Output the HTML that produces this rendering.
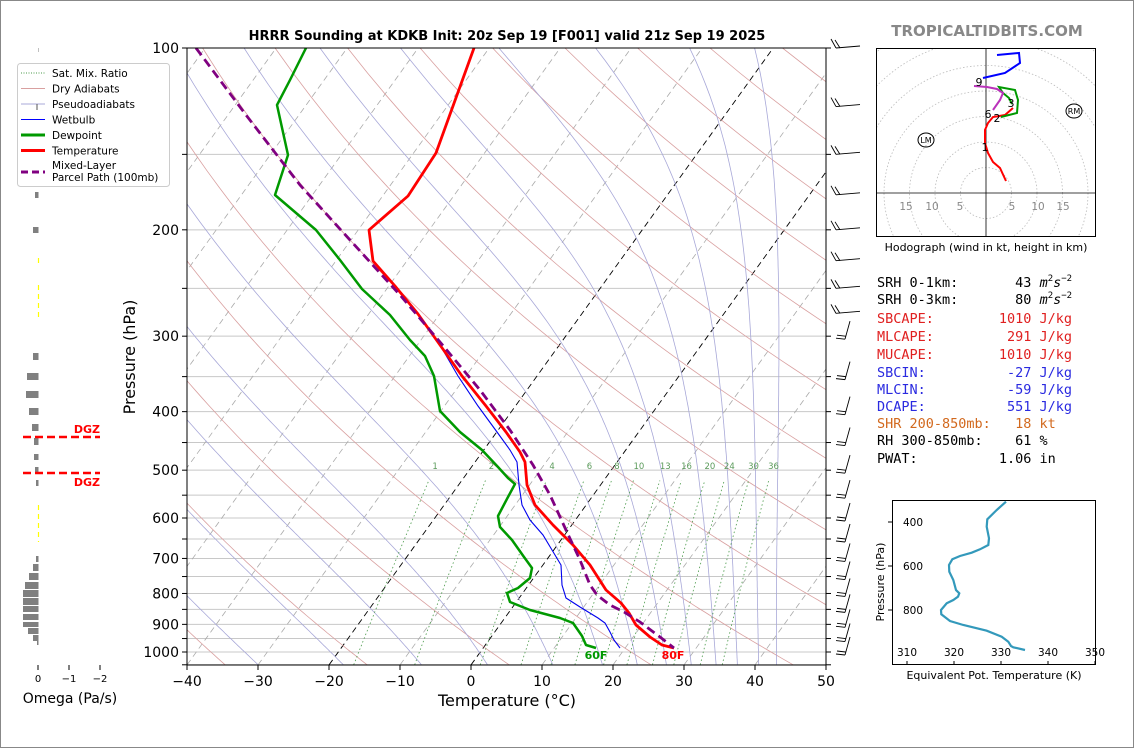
<!DOCTYPE html>
<html><head><meta charset="utf-8"><style>
body{margin:0;background:#fff;}
svg{display:block;font-family:"DejaVu Sans","Liberation Sans",sans-serif;}
.mono{font-family:"DejaVu Sans Mono","Liberation Mono",monospace;font-size:13.5px;white-space:pre;}
</style></head><body>
<svg id="s" width="1134" height="748" viewBox="0 0 1134 748" xmlns="http://www.w3.org/2000/svg">
<rect x="0.5" y="0.5" width="1133" height="747" fill="#fff" stroke="#888"/>
<defs><clipPath id="cp"><rect x="187" y="48" width="639" height="617"/></clipPath>
<clipPath id="hc"><rect x="876" y="48" width="220" height="189"/></clipPath></defs>
<g id="bg" clip-path="url(#cp)"></g>
<g id="fg"></g>
<text x="507" y="40" text-anchor="middle" font-size="13" font-weight="bold">HRRR Sounding at KDKB Init: 20z Sep 19 [F001] valid 21z Sep 19 2025</text>
<text x="987" y="36" text-anchor="middle" font-size="15" font-weight="bold" fill="#888">TROPICALTIDBITS.COM</text>
<text x="507" y="706" text-anchor="middle" font-size="16">Temperature (°C)</text>
<text transform="translate(135,357) rotate(-90)" text-anchor="middle" font-size="16">Pressure (hPa)</text>
<text x="70" y="703" text-anchor="middle" font-size="14">Omega (Pa/s)</text>
<text x="986" y="251" text-anchor="middle" font-size="11">Hodograph (wind in kt, height in km)</text>
<text x="994" y="679" text-anchor="middle" font-size="11">Equivalent Pot. Temperature (K)</text>
<text transform="translate(884,582) rotate(-90)" text-anchor="middle" font-size="11">Pressure (hPa)</text>
<g class="mono">
<text x="877" y="287" xml:space="preserve">SRH 0-1km:       43 <tspan font-style="italic">m</tspan><tspan font-size="9" dy="-6">2</tspan><tspan font-style="italic" dy="6">s</tspan><tspan font-size="9" dy="-6">−2</tspan></text>
<text x="877" y="304" xml:space="preserve">SRH 0-3km:       80 <tspan font-style="italic">m</tspan><tspan font-size="9" dy="-6">2</tspan><tspan font-style="italic" dy="6">s</tspan><tspan font-size="9" dy="-6">−2</tspan></text>
<text x="877" y="323" fill="#e02020" xml:space="preserve">SBCAPE:        1010 J/kg</text>
<text x="877" y="341" fill="#e02020" xml:space="preserve">MLCAPE:         291 J/kg</text>
<text x="877" y="359" fill="#e02020" xml:space="preserve">MUCAPE:        1010 J/kg</text>
<text x="877" y="377" fill="#2a2ae0" xml:space="preserve">SBCIN:          -27 J/kg</text>
<text x="877" y="394" fill="#2a2ae0" xml:space="preserve">MLCIN:          -59 J/kg</text>
<text x="877" y="411" fill="#2a2ae0" xml:space="preserve">DCAPE:          551 J/kg</text>
<text x="877" y="428" fill="#d2691e" xml:space="preserve">SHR 200-850mb:   18 kt</text>
<text x="877" y="445" xml:space="preserve">RH 300-850mb:    61 %</text>
<text x="877" y="463" xml:space="preserve">PWAT:          1.06 in</text>
</g>
</svg>
<script>
const NS="http://www.w3.org/2000/svg";
const bg=document.getElementById('bg'),fg=document.getElementById('fg');
function el(p,tag,a,txt){const e=document.createElementNS(NS,tag);for(const k in a)e.setAttribute(k,a[k]);if(txt!==undefined)e.textContent=txt;p.appendChild(e);return e;}
const Y=p=>48+604*Math.log10(p/100);
const X=(T,p)=>187+(T+40)*7.1+(665-Y(p))*0.72;
function pl(g,pts,st){el(g,'polyline',Object.assign({points:pts.map(q=>q[0].toFixed(1)+','+q[1].toFixed(1)).join(' '),fill:'none'},st));}
for(let p=100;p<=1050;p+=50) el(bg,'line',{x1:187,x2:826,y1:Y(p),y2:Y(p),stroke:'#c8c8c8','stroke-width':1});
for(let T=-120;T<=50;T+=10){const blk=(T==0||T==-20);pl(bg,[[X(T,1050),Y(1050)],[X(T,100),Y(100)]],{stroke:blk?'#000':'#aaa','stroke-width':blk?0.9:0.8,'stroke-dasharray':'6,4'});}
for(let th=218.5;th<=580;th+=20){let pts=[];for(let p=1050;p>=100;p-=10)pts.push([X(th*Math.pow(p/1050,0.286)-273.15,p),Y(p)]);pl(bg,pts,{stroke:'#d9a0a0','stroke-width':0.8});}
function es(T){return 6.112*Math.exp(17.67*T/(T+243.5));}
function gm(T,p){const Tk=T+273.15,e=es(T),r=0.622*e/(p-e),Lv=2.5e6,Rd=287,cp=1005,eps=0.622;
return (Rd*Tk+Lv*r)/(cp+Lv*Lv*r*eps/(Rd*Tk*Tk))/p;}
[-30,-18,-7,2.3,11.5,18.5,23.4,27.5,31,34.5,37.5,40.5,43].forEach(T0=>{let T=T0,pts=[[X(T,1050),Y(1050)]];
 for(let p=1050;p>100;p-=5){T-=gm(T,p)*5;pts.push([X(T,p-5),Y(p-5)]);}
 pl(bg,pts,{stroke:'#a8a8d8','stroke-width':0.8});});
[1,2,4,6,8,10,13,16,20,24,30,36].forEach(w=>{let pts=[];for(let p=1050;p>=520;p-=10){const e=w*p/(622+w),l=Math.log(e/6.112);pts.push([X(243.5*l/(17.67-l),p),Y(p)]);}
 pl(bg,pts,{stroke:'#4a9a4a','stroke-width':0.8,'stroke-dasharray':'1.5,2.5'});
 const e=w*500/(622+w),l=Math.log(e/6.112);el(bg,'text',{x:X(243.5*l/(17.67-l),500)+2,y:469,'font-size':8.5,fill:'#5a9a5a','text-anchor':'middle'},String(w));});
const P=s=>s.trim().split(/\s+/).map(v=>v.split(',').map(Number));
pl(bg,P("306,48 290,80 277,105 288,155 275,195 316,230 340,260 362,289 390,315 410,340 425,356 434,376 440,411 460,432 482,450 498,467 508,478 515,484 508,497 498,516 500,527 512,540 524,557 532,568 530,578 518,588 507,593 510,602 530,610 560,618 573,623 582,636 586,645 596,648"),{stroke:'#009900','stroke-width':2.5,'stroke-linejoin':'round'});
pl(bg,P("474,48 436,153 408,196 369,230 373,261 395,286 418,314 440,345 458,376 478,406 497,432 510,450 517,462 519,485 522,505 530,520 543,535 552,550 561,565 562,585 566,598 580,607 598,618 605,623 610,632 614,640 620,648"),{stroke:'#0000ee','stroke-width':1.1});
pl(bg,P("474,48 436,153 408,196 369,230 373,261 395,286 418,314 440,345 462,376 486,406 506,432 520,452 525,462 527,485 535,505 553,525 573,545 590,565 606,590 621,603 629,613 636,625 650,637 662,645 674,648"),{stroke:'#ff0000','stroke-width':2.8,'stroke-linejoin':'round'});
pl(bg,P("196,48 246,115 300,185 350,240 400,295 440,342 480,390 510,430 533,465 550,495 566,530 580,560 590,585 597,595 610,605 624,612 640,622 660,637 674,648"),{stroke:'#800080','stroke-width':2.8,'stroke-dasharray':'9,5'});
el(fg,'text',{x:596,y:659,'font-size':11,'font-weight':'bold',fill:'#009900','text-anchor':'middle'},'60F');
el(fg,'text',{x:673,y:659,'font-size':11,'font-weight':'bold',fill:'#ff0000','text-anchor':'middle'},'80F');
el(fg,'rect',{x:187,y:48,width:639,height:617,fill:'none',stroke:'#000','stroke-width':1});
for(let p=100;p<=1050;p+=50){el(fg,'line',{x1:182,x2:187,y1:Y(p),y2:Y(p),stroke:'#000'});el(fg,'line',{x1:826,x2:831,y1:Y(p),y2:Y(p),stroke:'#000'});}
for(let p=100;p<=1000;p+=100)el(fg,'text',{x:179,y:Y(p)+5,'font-size':14,'text-anchor':'end'},String(p));
for(let T=-40;T<=50;T+=10){const x=187+(T+40)*7.1;el(fg,'line',{x1:x,x2:x,y1:665,y2:670,stroke:'#000'});el(fg,'text',{x:x,y:686,'font-size':14,'text-anchor':'middle'},(T<0?'−':'')+Math.abs(T));}
for(let p=100;p<=1000;p+=(p<300?25:50)){const y=Y(p);const up=p<300;
 if(up){el(fg,'line',{x1:836,y1:y,x2:860,y2:y-2,stroke:'#000','stroke-width':0.9});el(fg,'line',{x1:836,y1:y,x2:831,y2:y-9,stroke:'#000','stroke-width':0.9});el(fg,'line',{x1:840,y1:y,x2:835,y2:y-8,stroke:'#000','stroke-width':0.9});}
 else{el(fg,'line',{x1:845,y1:y+3,x2:850,y2:y-15,stroke:'#000','stroke-width':0.9});el(fg,'line',{x1:845,y1:y+3,x2:836,y2:y+2,stroke:'#000','stroke-width':0.9});el(fg,'line',{x1:845.5,y1:y,x2:837,y2:y-1,stroke:'#000','stroke-width':0.9});}}
const bars=[[48,52,38],[192,198,35],[227,233,33],[353,360,33],[373,380,27],[391,398,26],[408,415,29],[424,431,32],[438,445,34],[454,460,34],[467,473,35],[480,486,36],[556,562,36],[564,571,33],[573,580,29],[582,589,25],[590,597,23],[598,605,23],[606,612,23],[614,620,23],[622,627,23],[628,634,28],[635,641,33],[641,645,37]];
bars.forEach(b=>el(fg,'rect',{x:b[2],y:b[0],width:38-b[2]+0.5,height:b[1]-b[0],fill:'#808080'}));
[[258,265],[285,318],[505,542]].forEach(s=>el(fg,'line',{x1:38.5,x2:38.5,y1:s[0],y2:s[1],stroke:'#ffff00','stroke-width':1.2,'stroke-dasharray':'5,4'}));
[437,473].forEach(y=>el(fg,'line',{x1:23,x2:100,y1:y,y2:y,stroke:'#ff0000','stroke-width':2.5,'stroke-dasharray':'8,4'}));
el(fg,'text',{x:100,y:433,'font-size':11,'font-weight':'bold',fill:'#ff0000','text-anchor':'end'},'DGZ');
el(fg,'text',{x:100,y:486,'font-size':11,'font-weight':'bold',fill:'#ff0000','text-anchor':'end'},'DGZ');
[[38,'0'],[69,'−1'],[100,'−2']].forEach(t=>{el(fg,'line',{x1:t[0],x2:t[0],y1:665,y2:670,stroke:'#000'});el(fg,'text',{x:t[0],y:682,'font-size':10,'text-anchor':'middle'},t[1]);});
el(fg,'rect',{x:17.5,y:63.5,width:152,height:123,fill:'#fff',stroke:'#ccc',rx:3});
const lg=[['Sat. Mix. Ratio',{stroke:'#4a9a4a','stroke-dasharray':'1,1.5'}],['Dry Adiabats',{stroke:'#d9a0a0'}],['Pseudoadiabats',{stroke:'#a8a8d8'}],['Wetbulb',{stroke:'#0000ff'}],['Dewpoint',{stroke:'#009900','stroke-width':3}],['Temperature',{stroke:'#ff0000','stroke-width':3}]];
lg.forEach((l,i)=>{const y=73+i*15.5;el(fg,'line',Object.assign({x1:21,x2:45,y1:y,y2:y,'stroke-width':1},l[1]));el(fg,'text',{x:52,y:y+4,'font-size':10.5},l[0]);});
el(fg,'line',{x1:37,x2:37,y1:104,y2:110,stroke:'#555'});
el(fg,'line',{x1:21,x2:45,y1:172,y2:172,stroke:'#800080','stroke-width':3,'stroke-dasharray':'7,4'});
el(fg,'text',{x:52,y:169,'font-size':10.5},'Mixed-Layer');el(fg,'text',{x:52,y:181,'font-size':10.5},'Parcel Path (100mb)');
const hg=el(fg,'g',{'clip-path':'url(#hc)'});
for(let r=5;r<=40;r+=5)el(hg,'circle',{cx:986,cy:193,r:r*5.1,fill:'none',stroke:'#bbb','stroke-width':0.8,'stroke-dasharray':'1.5,2'});
el(hg,'line',{x1:876,x2:1096,y1:193,y2:193,stroke:'#000','stroke-width':0.8});
el(hg,'line',{x1:986,x2:986,y1:48,y2:237,stroke:'#000','stroke-width':0.8});
[[906,'15'],[932,'10'],[960,'5'],[1012,'5'],[1038,'10'],[1063,'15']].forEach(t=>el(fg,'text',{x:t[0],y:210,'font-size':10.5,fill:'#888','text-anchor':'middle'},t[1]));
pl(hg,P("1006,181 1000,168 993,162 988,153 985,143 985,130 988,123 993,117 1005,115 1013,108"),{stroke:'#ff0000','stroke-width':2});
pl(hg,P("1001,117 1017,113 1018,100 1015,90 999,87 1003,93 1009,98 1012,104"),{stroke:'#009900','stroke-width':2});
pl(hg,P("993,110 1000,100 1003,93 997,89 987,87 974,86"),{stroke:'#bb33bb','stroke-width':2});
pl(hg,P("983,78 1005,73 1020,63 1019,53 997,55"),{stroke:'#0000ff','stroke-width':2});
[[979,86,'9'],[988,118,'6'],[997,122,'2'],[1011,107,'3'],[985,151,'1']].forEach(t=>el(fg,'text',{x:t[0],y:t[1],'font-size':11,'text-anchor':'middle'},t[2]));
el(fg,'ellipse',{cx:1074,cy:111,rx:8,ry:7,fill:'none',stroke:'#000'});el(fg,'text',{x:1074,y:114,'font-size':8,'text-anchor':'middle'},'RM');
el(fg,'ellipse',{cx:926,cy:140,rx:8,ry:7,fill:'none',stroke:'#000'});el(fg,'text',{x:926,y:143,'font-size':8,'text-anchor':'middle'},'LM');
el(fg,'rect',{x:876.5,y:48.5,width:219,height:188,fill:'none',stroke:'#000'});
el(fg,'rect',{x:892.5,y:500.5,width:203,height:164,fill:'none',stroke:'#000'});
const te=P("558,215 530,240 502,268 500,290 507,325 505,345 480,358 455,368 420,378 397,388 387,405 388,425 400,450 408,480 418,490 414,500 400,510 380,520 363,540 364,553 390,573 430,585 500,602 545,620 565,635 573,648 580,652 615,660").map(q=>[q[0]/3+820,q[1]/3+430]);
pl(fg,te,{stroke:'#3399bb','stroke-width':2.2});
[[522,'400'],[566,'600'],[610,'800']].forEach(t=>{el(fg,'line',{x1:888,x2:892,y1:t[0],y2:t[0],stroke:'#000'});el(fg,'text',{x:923,y:t[0]+4,'font-size':10.5,'text-anchor':'end'},t[1]);});
[[907,'310'],[954,'320'],[1001,'330'],[1048,'340'],[1095,'350']].forEach(t=>{el(fg,'line',{x1:t[0],x2:t[0],y1:665,y2:661,stroke:'#000'});el(fg,'text',{x:t[0],y:656,'font-size':10.5,'text-anchor':'middle'},t[1]);});
</script>
</body></html>
